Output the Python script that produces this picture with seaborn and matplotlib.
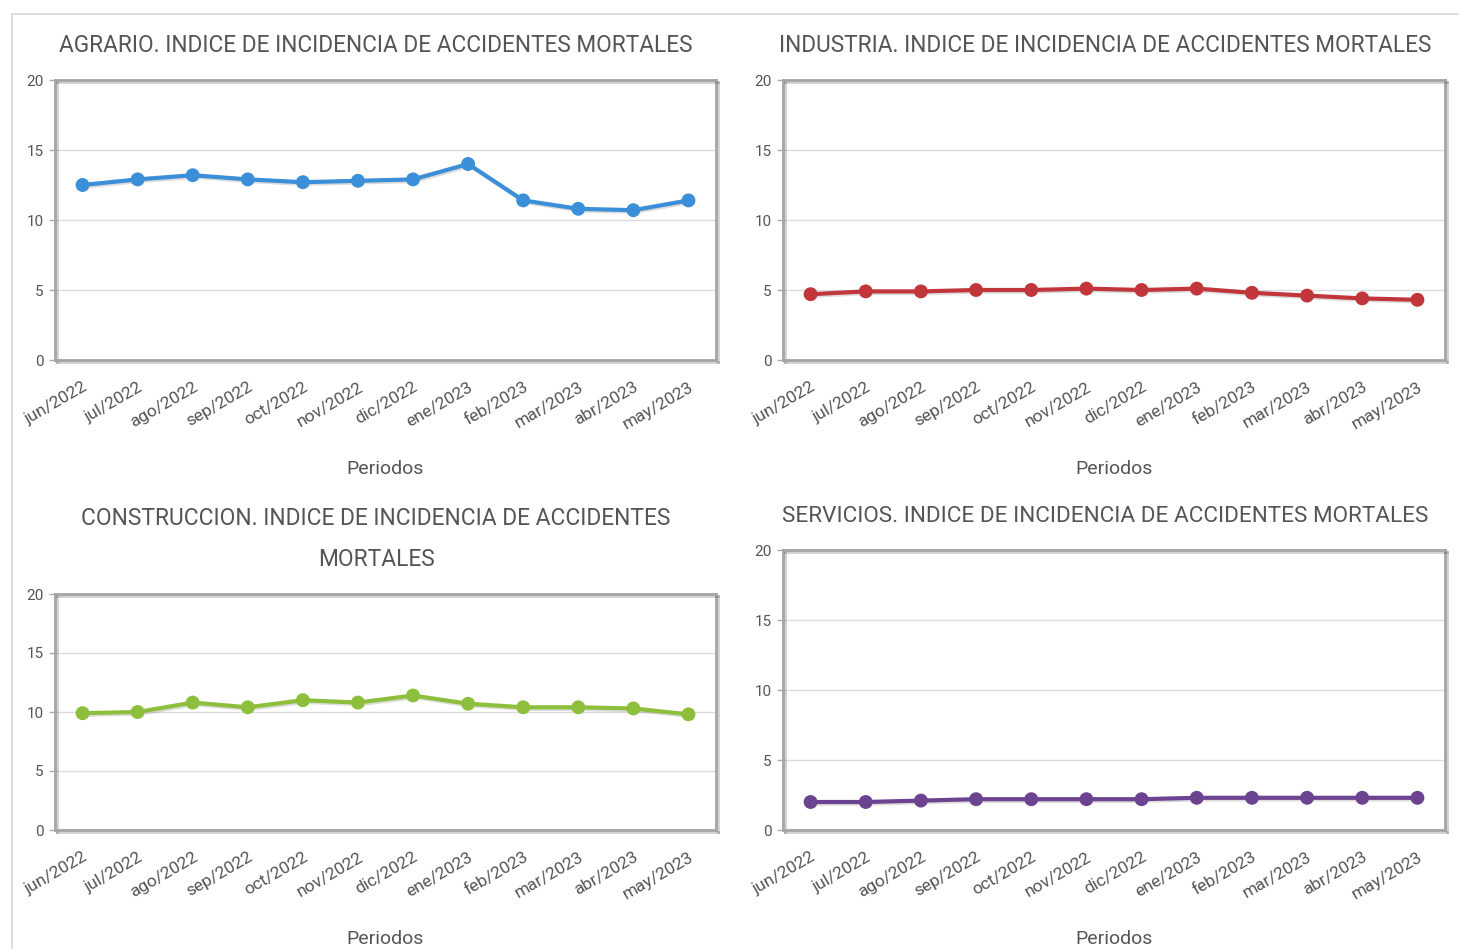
import numpy as np
import pandas as pd
import matplotlib
matplotlib.use('Agg')
import matplotlib.pyplot as plt
import matplotlib.patheffects as pe
import seaborn as sns

months = ['jun/2022', 'jul/2022', 'ago/2022', 'sep/2022', 'oct/2022', 'nov/2022',
          'dic/2022', 'ene/2023', 'feb/2023', 'mar/2023', 'abr/2023', 'may/2023']
agrario = [12.5, 12.9, 13.2, 12.9, 12.7, 12.8, 12.9, 14.0, 11.4, 10.8, 10.7, 11.4]
industria = [4.7, 4.9, 4.9, 5.0, 5.0, 5.1, 5.0, 5.1, 4.8, 4.6, 4.4, 4.3]
construccion = [9.9, 10.0, 10.8, 10.4, 11.0, 10.8, 11.4, 10.7, 10.4, 10.4, 10.3, 9.8]
servicios = [2.0, 2.0, 2.1, 2.2, 2.2, 2.2, 2.2, 2.3, 2.3, 2.3, 2.3, 2.3]

titles = ['AGRARIO. INDICE DE INCIDENCIA DE ACCIDENTES MORTALES',
          'INDUSTRIA. INDICE DE INCIDENCIA DE ACCIDENTES MORTALES',
          'CONSTRUCCION. INDICE DE INCIDENCIA DE ACCIDENTES\nMORTALES',
          'SERVICIOS. INDICE DE INCIDENCIA DE ACCIDENTES MORTALES']
colors = ['#3b8ed8', '#c0363a', '#8dbf3c', '#6b4391']
yticks = [0, 5, 10, 15, 20]

sns.set_theme(style='white')
plt.rcParams['font.family'] = ['Roboto', 'DejaVu Sans']
txt = '#555555'

W, H = 1459, 949
fig = plt.figure(figsize=(W / 100, H / 100), dpi=100)

# pixel boxes (left, top, right, bottom)
boxes = [(55, 80, 716, 360), (783, 80, 1445, 360),
         (55, 594, 716, 830), (783, 550, 1445, 830)]
series = [agrario, industria, construccion, servicios]
# target pixel width of the (first line of the) title and its centre
title_w = [633, 651, 591, 645]
title_c = [376, 1105, 376, 1105]

# outer frame
fig.add_artist(plt.Rectangle((12 / W, -0.01), 1.0, 1 - 14 / H + 0.01,
                             transform=fig.transFigure, fill=False,
                             edgecolor='#d8d8d8', lw=1.2))

axes = []
for (l, t, r, b), vals, col in zip(boxes, series, colors):
    ax = fig.add_axes([l / W, 1 - b / H, (r - l) / W, (b - t) / H])
    df = pd.DataFrame({'Periodo': months, 'Valor': vals})
    sns.lineplot(data=df, x='Periodo', y='Valor', sort=False, color=col,
                 lw=3, marker='o', markersize=10, markeredgewidth=0, ax=ax,
                 path_effects=[pe.SimpleLineShadow(offset=(1.2, -1.2), alpha=0.15),
                               pe.Normal()])
    ax.set_xlim(-0.5, len(months) - 0.5)
    ax.set_ylim(0, 20)
    ax.set_yticks(yticks)
    ax.set_yticklabels([str(v) for v in yticks], fontsize=11, color=txt)
    ax.yaxis.grid(True, color='#dcdcdc', lw=1)
    ax.set_axisbelow(True)
    ax.set_xticks(range(len(months)))
    ax.set_xticklabels(months, rotation=30, ha='right', rotation_mode='anchor',
                       fontsize=12.5, color=txt)
    ax.set_xticks(np.arange(-0.5, len(months)), minor=True)
    ax.tick_params(axis='x', which='major', length=0, pad=14)
    ax.tick_params(axis='x', which='minor', length=5, width=1, color='#aaaaaa',
                   direction='out')
    ax.tick_params(axis='y', length=4, width=1, color='#aaaaaa', pad=4, left=True)
    for s in ax.spines.values():
        s.set_color('#a5a5a5')
        s.set_linewidth(2)
        s.set_path_effects([pe.SimpleLineShadow(offset=(1.5, -1.5), alpha=0.2),
                            pe.Normal()])
    ax.set_xlabel('Periodos', fontsize=14, color=txt, labelpad=20)
    ax.set_ylabel('')
    axes.append(ax)

# titles: fit the text width to the reference
renderer = fig.canvas.get_renderer()
for ax, box, title, tw, tc in zip(axes, boxes, titles, title_w, title_c):
    first = title.split('\n')[0]
    probe = fig.text(0, 0, first, fontsize=20)
    w = probe.get_window_extent(renderer).width
    probe.remove()
    fs = 20 * tw / w
    l, r = box[0], box[2]
    ax.set_title(title, fontsize=fs, color=txt, pad=20, linespacing=2.0,
                 x=(tc - l) / (r - l))

fig.savefig('out.png', dpi=100)
